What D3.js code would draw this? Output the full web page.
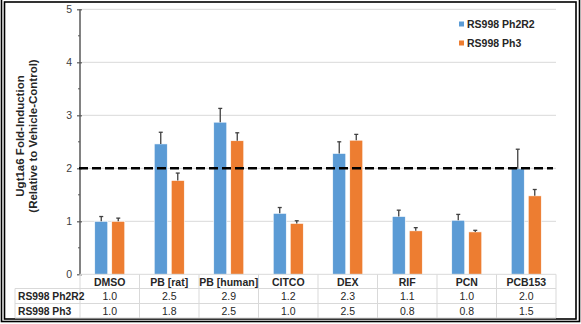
<!DOCTYPE html>
<html><head><meta charset="utf-8">
<script src="https://cdn.jsdelivr.net/npm/d3@7/dist/d3.min.js"></script>
<style>body{margin:0;background:#fff}svg{display:block;font-family:Arial,"Liberation Sans",sans-serif}</style>
</head><body><svg id="c" width="581" height="324"></svg>
<script>
const categories = ["DMSO","PB [rat]","PB [human]","CITCO","DEX","RIF","PCN","PCB153"];
const seriesNames = ["RS998 Ph2R2","RS998 Ph3"];
const ph2r2 = [1.0, 2.46, 2.87, 1.15, 2.28, 1.09, 1.02, 1.99];
const ph2r2Err = [0.09, 0.22, 0.26, 0.11, 0.22, 0.12, 0.11, 0.37];
const ph3 = [1.0, 1.77, 2.52, 0.96, 2.53, 0.82, 0.80, 1.48];
const ph3Err = [0.06, 0.14, 0.15, 0.05, 0.11, 0.06, 0.03, 0.12];
const ph2r2Labels = ["1.0","2.5","2.9","1.2","2.3","1.1","1.0","2.0"];
const ph3Labels = ["1.0","1.8","2.5","1.0","2.5","0.8","0.8","1.5"];
const yTicks = [0,1,2,3,4,5];
const threshold = 2;
const colors = ["#5B9BD5","#ED7D31"];

const svg = d3.select("#c");
const L = 80, R = 556, T = 9.3, B = 274.3;
const y = d3.scaleLinear().domain([0,5]).range([B,T]);
const x = d3.scaleBand().domain(categories).range([L,R]).padding(0);
const bw = x.bandwidth();
const x1 = d3.scaleBand().domain(seriesNames).range([0,bw]).paddingInner(0.235).paddingOuter(0.867);

// frame
svg.append("rect").attr("x",1.5).attr("y",-2).attr("width",578).attr("height",323.5).attr("fill","none").attr("stroke","#000").attr("stroke-width",1.6);
svg.append("rect").attr("x",4.5).attr("y",2).attr("width",571.5).attr("height",317).attr("fill","none").attr("stroke","#000").attr("stroke-width",1.6);

// gridlines
svg.append("g").selectAll("line").data(yTicks.filter(d=>d>0)).join("line")
  .attr("x1",L+2).attr("x2",R).attr("y1",d=>y(d)).attr("y2",d=>y(d))
  .attr("stroke","#d9d9d9").attr("stroke-width",1);

// y axis
const yAxis = d3.axisLeft(y).tickValues(yTicks).tickFormat(d3.format("d")).tickSize(3).tickPadding(5);
const ga = svg.append("g").attr("transform",`translate(${L},0)`).call(yAxis);
ga.select(".domain").attr("stroke","#595959").attr("stroke-width",1.5).attr("d",`M0,${B}V${T}`);
ga.selectAll(".tick line").attr("stroke","#595959").attr("stroke-width",1.2).attr("x2",-3).attr("x1",2);
ga.selectAll("text").attr("font-size",10.5).attr("fill","#404040").attr("font-family","Arial, 'Liberation Sans', sans-serif");
// minor ticks
svg.append("g").selectAll("line").data([0.5,1.5,2.5,3.5,4.5]).join("line")
  .attr("x1",L-2).attr("x2",L).attr("y1",d=>y(d)).attr("y2",d=>y(d)).attr("stroke","#595959").attr("stroke-width",1);

// y title
const yt = svg.append("text").attr("transform",`translate(23.5,136) rotate(-90)`)
  .attr("text-anchor","middle").attr("font-weight","bold").attr("font-size",11.5).attr("fill","#262626");
yt.append("tspan").attr("x",0).attr("dy",0).text("Ugt1a6 Fold-Induction");
yt.append("tspan").attr("x",0).attr("dy",13).text("(Relative to Vehicle-Control)");

// bars
const data = categories.map((c,i)=>({c, vals:[ph2r2[i],ph3[i]], errs:[ph2r2Err[i],ph3Err[i]]}));
const gBars = svg.append("g");
data.forEach(d=>{
  seriesNames.forEach((s,k)=>{
    const bx = x(d.c)+x1(s);
    gBars.append("rect").attr("x",bx).attr("y",y(d.vals[k])).attr("width",x1.bandwidth())
      .attr("height",B-y(d.vals[k])).attr("fill",colors[k]).attr("stroke","#ffffff").attr("stroke-width",0.6);
    const cx = bx + x1.bandwidth()/2;
    gBars.append("line").attr("x1",cx).attr("x2",cx).attr("y1",y(d.vals[k])).attr("y2",y(d.vals[k]+d.errs[k]))
      .attr("stroke","#404040").attr("stroke-width",1.3);
    gBars.append("line").attr("x1",cx-2).attr("x2",cx+2).attr("y1",y(d.vals[k]+d.errs[k])).attr("y2",y(d.vals[k]+d.errs[k]))
      .attr("stroke","#404040").attr("stroke-width",1.3);
  });
});

// dashed threshold
svg.append("line").attr("x1",L-1).attr("x2",R-3).attr("y1",y(threshold)).attr("y2",y(threshold))
  .attr("stroke","#000").attr("stroke-width",2.4).attr("stroke-dasharray","9,4");

// table
const rowY = [B, 288.5, 303.5, 318];
const gt = svg.append("g");
const tc = "#d9d9d9";
gt.append("line").attr("x1",L).attr("x2",R).attr("y1",B).attr("y2",B).attr("stroke",tc);
[1,2,3].forEach(r=>gt.append("line").attr("x1",15).attr("x2",R).attr("y1",rowY[r]).attr("y2",rowY[r]).attr("stroke",tc));
const bounds = categories.map(c=>x(c)).concat([R]);
bounds.forEach(bx=>gt.append("line").attr("x1",bx).attr("x2",bx).attr("y1",B).attr("y2",rowY[3]).attr("stroke",tc));
gt.append("line").attr("x1",15).attr("x2",15).attr("y1",rowY[1]).attr("y2",rowY[3]).attr("stroke",tc);
gt.selectAll("text.h").data(categories).join("text").attr("class","h")
  .attr("x",d=>x(d)+bw/2).attr("y",285.5).attr("text-anchor","middle").attr("font-weight","bold")
  .attr("font-size",10.5).attr("fill","#262626").text(d=>d);
const rows = [ph2r2Labels, ph3Labels];
rows.forEach((lab,r)=>{
  gt.append("text").attr("x",18).attr("y",rowY[r+1]+11).attr("font-weight","bold").attr("font-size",10.3)
    .attr("fill","#262626").text(seriesNames[r]);
  gt.selectAll(null).data(categories).join("text")
    .attr("x",d=>x(d)+bw/2).attr("y",rowY[r+1]+11).attr("text-anchor","middle")
    .attr("font-size",10.5).attr("fill","#262626").text((d,i)=>lab[i]);
});

// legend
const lg = svg.append("g");
seriesNames.forEach((s,k)=>{
  const ly = 24 + k*19;
  lg.append("rect").attr("x",459).attr("y",ly-2.5).attr("width",5).attr("height",5).attr("fill",colors[k]);
  lg.append("text").attr("x",467).attr("y",ly+4).attr("font-weight","bold").attr("font-size",10.5)
    .attr("fill","#262626").text(s);
});
</script></body></html>
